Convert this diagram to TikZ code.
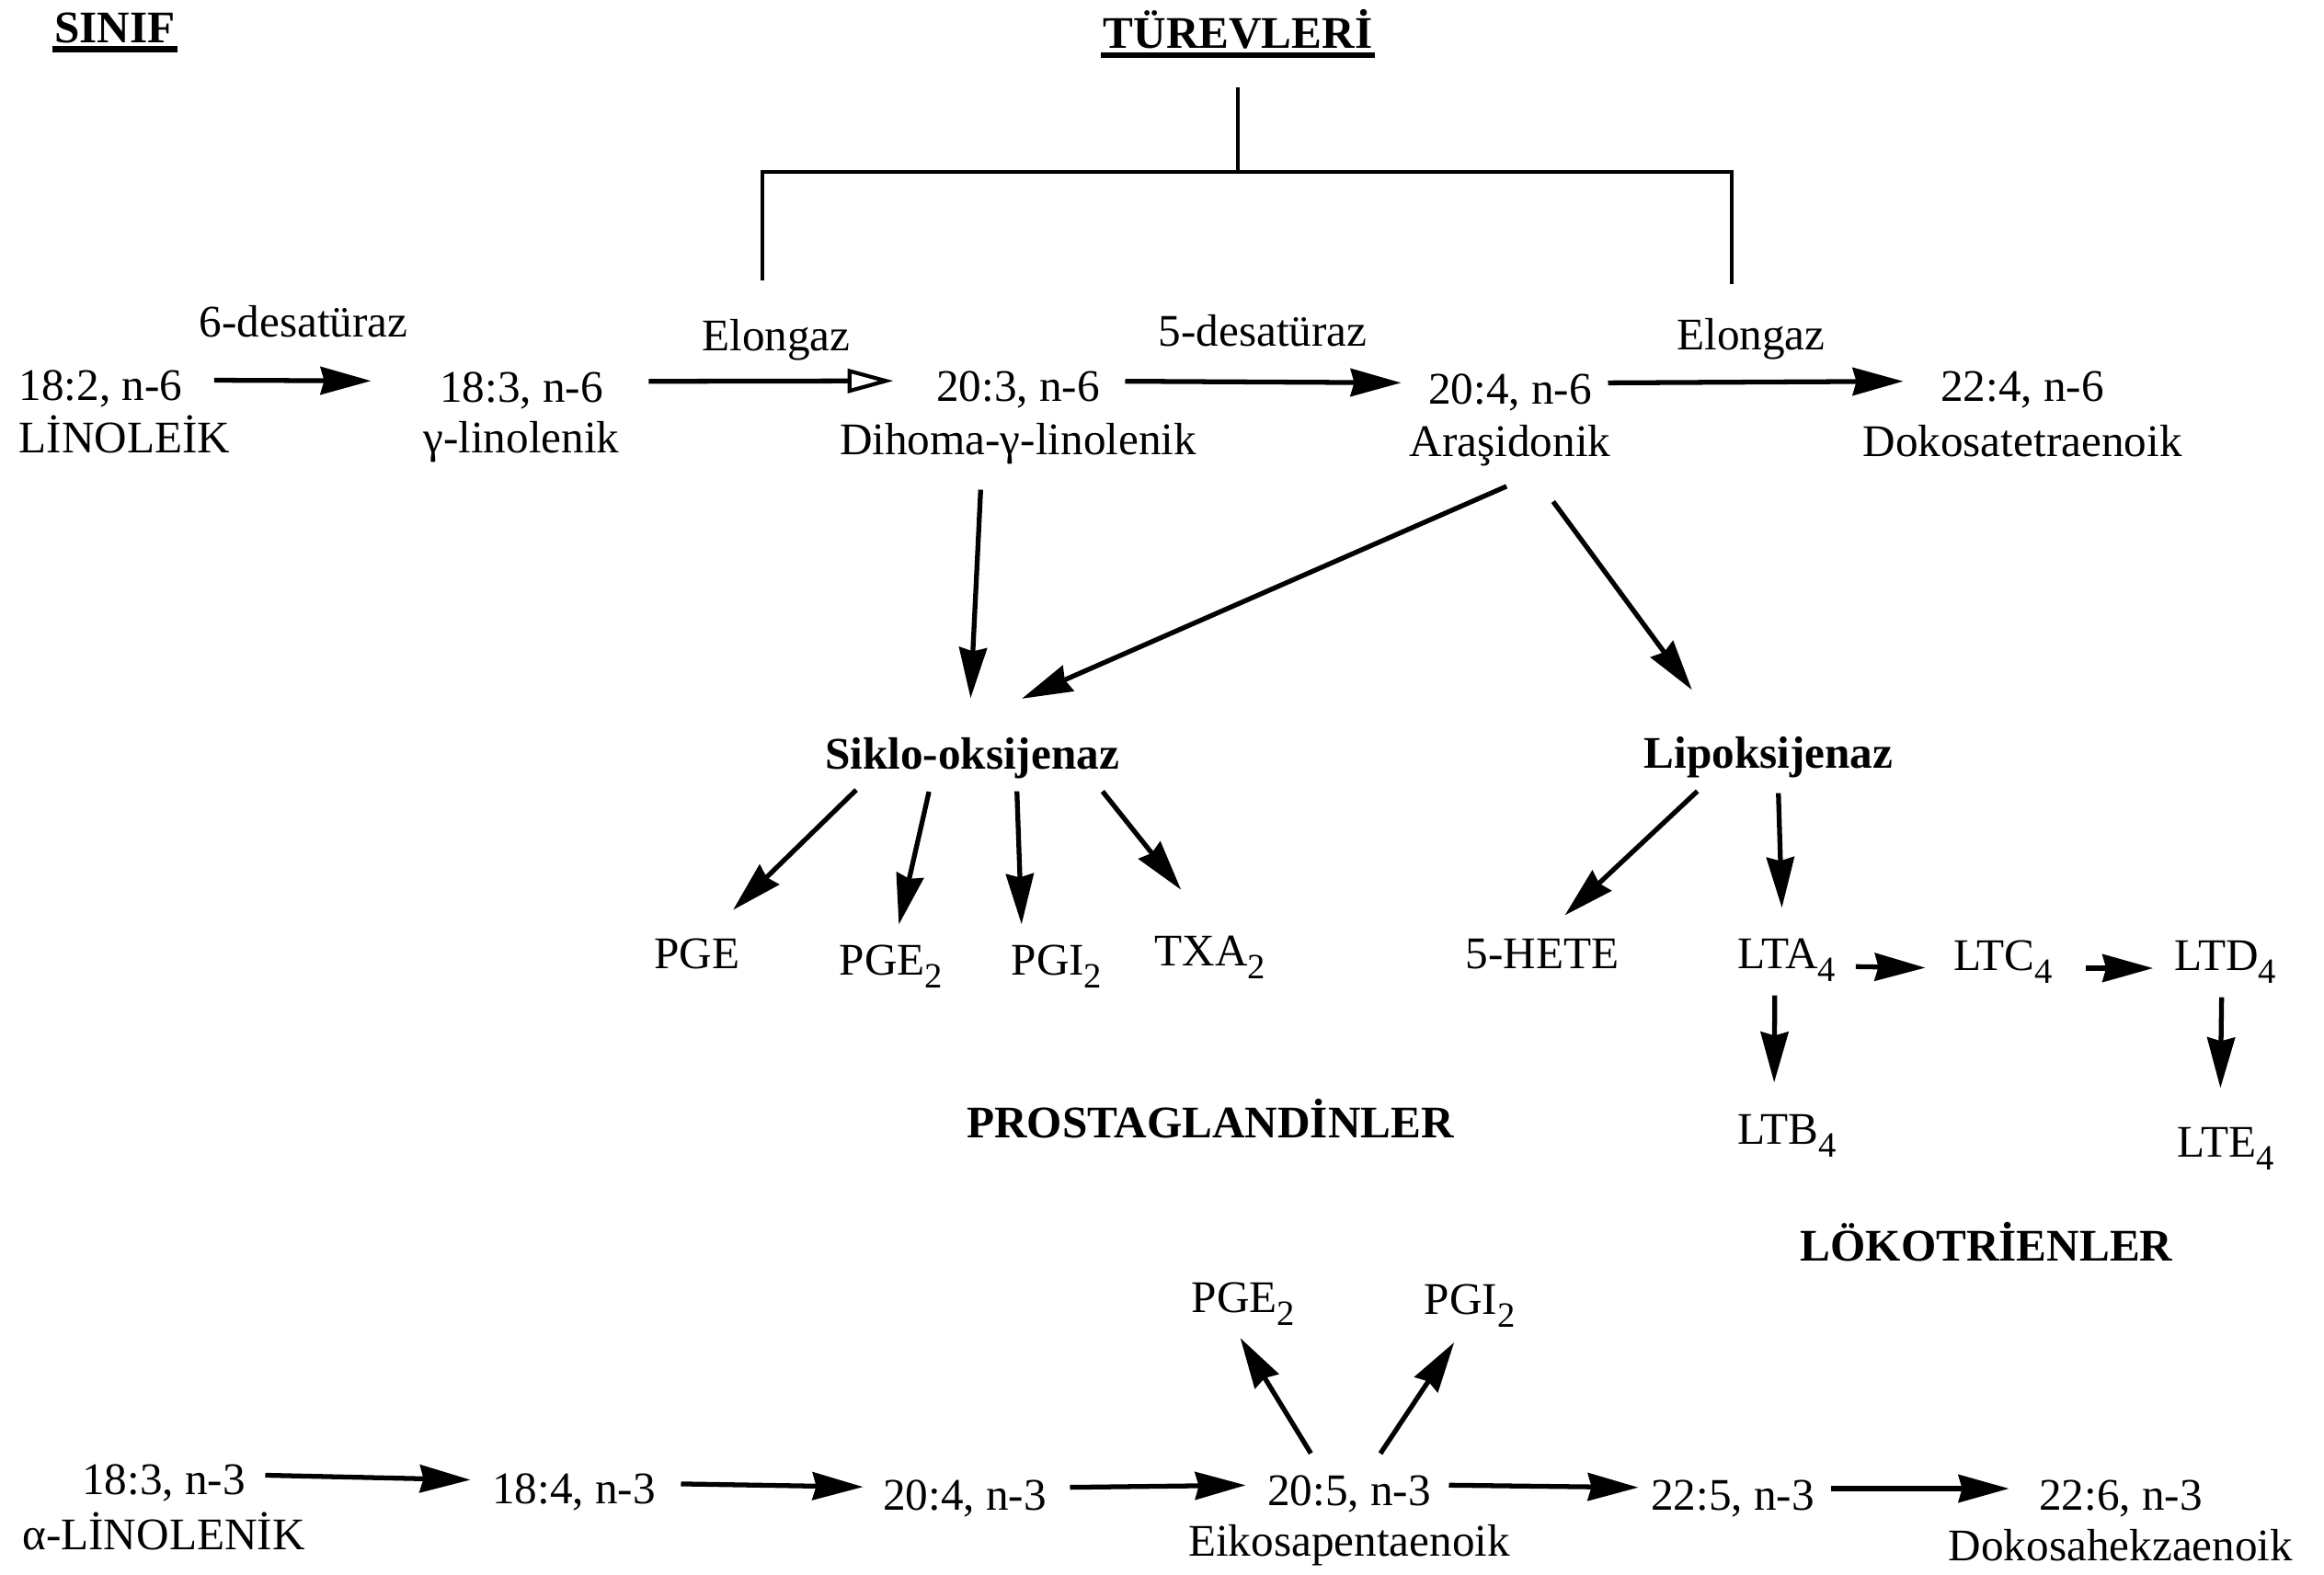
\documentclass[tikz,border=0pt]{standalone}
\usepackage{fontspec}
\setmainfont{Liberation Serif}
\usetikzlibrary{arrows.meta,positioning}

\newcommand{\chemsub}[1]{\raisebox{-4pt}{\fontsize{11}{12}\selectfont #1}}

\begin{document}
\begin{tikzpicture}[>={Stealth[length=5.5mm,width=3mm,inset=0.4mm]},line width=1.5pt,
    every node/.style={anchor=base,inner sep=0pt,text height=4.6mm,text depth=0pt,
      font=\fontsize{14}{17}\selectfont},
    enzyme node/.style={font=\fontsize{14}{17}\selectfont\bfseries},
    open arrow/.style={-{Triangle[open,length=5mm,width=2.6mm,line width=1.2pt]}}]

  \fill[white] (0,0) rectangle (25.27,-17.13);
  \useasboundingbox (0,0) rectangle (25.27,-17.13);

  % headers
  \node[enzyme node] (sinif) at (1.25,-0.47) {SINIF};
  \node[enzyme node] (turev) at (13.46,-0.53) {TÜREVLERİ};
  \draw[line width=1.8pt] ([yshift=-0.065cm]sinif.base west) -- ([yshift=-0.065cm]sinif.base east);
  \draw[line width=1.8pt] ([yshift=-0.07cm]turev.base west) -- ([yshift=-0.07cm]turev.base east);

  % n-6 row
  \node (n182) [anchor=base west] at (0.18,-4.36) {18:2, n-6};
  \node (linoleik) [below=0.57cm of n182.base west, anchor=base west] {LİNOLEİK};
  \node (n183) at (5.67,-4.38) {18:3, n-6};
  \node (gamma) [below=0.55cm of n183.base, anchor=base] {γ-linolenik};
  \node (n203) at (11.07,-4.37) {20:3, n-6};
  \node (dihoma) [below=0.58cm of n203.base, anchor=base] {Dihoma-γ-linolenik};
  \node (n204) at (16.42,-4.40) {20:4, n-6};
  \node (arasidonik) [below=0.57cm of n204.base, anchor=base] {Araşidonik};
  \node (n224) at (21.99,-4.37) {22:4, n-6};
  \node (dokosa4) [below=0.60cm of n224.base, anchor=base] {Dokosatetraenoik};

  \node (desA) at (3.30,-3.67) {6-desatüraz};
  \node (elonA) at (8.44,-3.82) {Elongaz};
  \node (desB) at (13.73,-3.77) {5-desatüraz};
  \node (elonB) at (19.04,-3.81) {Elongaz};

  % bracket
  \coordinate (brk) at (13.46,-1.87);
  \draw[line width=1.3pt,shorten <=0.39cm] (turev.south) -- (brk);
  \draw[line width=1.3pt,shorten >=0.28cm] (brk) -| ([xshift=-0.15cm]elonA.north);
  \draw[line width=1.3pt,shorten >=0.23cm] (brk) -| ([xshift=-0.21cm]elonB.north);

  \draw[->,shorten <=0.32cm,shorten >=0.72cm] (n182) -- (n183);
  \draw[open arrow,shorten <=0.47cm,shorten >=0.44cm] (n183) -- (n203);
  \draw[->,shorten <=0.25cm,shorten >=0.27cm] (n203) -- (n204);
  \draw[->,shorten <=0.15cm,shorten >=0.38cm] (n204) -- (n224);

  % enzymes and products
  \node[enzyme node] (siklo) at (10.57,-8.37) {Siklo-oksijenaz};
  \node[enzyme node] (lipo) at (19.23,-8.36) {Lipoksijenaz};
  \node (pge) at (7.58,-10.53) {PGE};
  \node (pge2) at (9.69,-10.60) {PGE\chemsub{2}};
  \node (pgi2) at (11.49,-10.60) {PGI\chemsub{2}};
  \node (txa2) at (13.16,-10.50) {TXA\chemsub{2}};
  \node (hete) at (16.77,-10.53) {5-HETE};
  \node (lta4) at (19.43,-10.53) {LTA\chemsub{4}};
  \node (ltc4) at (21.78,-10.55) {LTC\chemsub{4}};
  \node (ltd4) at (24.20,-10.55) {LTD\chemsub{4}};
  \node (ltb4) [below=1.91cm of lta4.base, anchor=base] {LTB\chemsub{4}};
  \node (lte4) [below=2.03cm of ltd4.base, anchor=base] {LTE\chemsub{4}};
  \node[enzyme node] (prosta) at (13.16,-12.37) {PROSTAGLANDİNLER};
  \node[enzyme node] (loko) at (21.60,-13.71) {LÖKOTRİENLER};

  \draw[->,shorten <=0.35cm,shorten >=0.29cm] ([xshift=-0.39cm]dihoma.south) -- ([xshift=-0.03cm]siklo.north);
  \draw[->,shorten <=0.73cm,shorten >=0.71cm] ([xshift=0.63cm]arasidonik.south) -- ([xshift=-0.11cm]siklo.north);
  \draw[->,shorten <=0.57cm,shorten >=0.46cm] ([xshift=0.13cm]arasidonik.south) -- ([xshift=-0.56cm]lipo.north);

  \draw[->,shorten <=0.28cm,shorten >=0.21cm] ([xshift=-1.06cm]siklo.south) -- ([xshift=0.24cm]pge.north);
  \draw[->,shorten <=0.22cm,shorten >=0.06cm] ([xshift=-0.42cm]siklo.south) -- ([xshift=0.07cm]pge2.north);
  \draw[->,shorten <=0.21cm,shorten >=0.06cm] ([xshift=0.48cm]siklo.south) -- ([xshift=-0.38cm]pgi2.north);
  \draw[->,shorten <=0.27cm,shorten >=0.43cm] ([xshift=1.25cm]siklo.south) -- ([xshift=-0.05cm]txa2.north);

  \draw[->,shorten <=0.32cm,shorten >=0.13cm] ([xshift=-0.54cm]lipo.south) -- ([xshift=0.15cm]hete.north);
  \draw[->,shorten <=0.24cm,shorten >=0.17cm] ([xshift=0.10cm]lipo.south) -- ([xshift=-0.05cm]lta4.north);
  \draw[->,shorten <=0.19cm,shorten >=0.28cm] ([yshift=-0.21cm]lta4.east) -- ([yshift=-0.21cm]ltc4.west);
  \draw[->,shorten <=0.33cm,shorten >=0.21cm] ([yshift=-0.21cm]ltc4.east) -- ([yshift=-0.21cm]ltd4.west);
  \draw[->,shorten <=0.27cm,shorten >=0.18cm] ([xshift=-0.13cm]lta4.south) -- ([xshift=-0.14cm]ltb4.north);
  \draw[->,shorten <=0.27cm,shorten >=0.26cm] ([xshift=-0.04cm]ltd4.south) -- ([xshift=-0.06cm]lte4.north);

  % n-3 row
  \node (bpge2) at (13.52,-14.27) {PGE\chemsub{2}};
  \node (bpgi2) at (15.98,-14.29) {PGI\chemsub{2}};
  \node (m183) at (1.78,-16.25) {18:3, n-3};
  \node (alinolenik) [below=0.60cm of m183.base, anchor=base] {α-LİNOLENİK};
  \node (m184) at (6.24,-16.35) {18:4, n-3};
  \node (m204) at (10.49,-16.42) {20:4, n-3};
  \node (m205) at (14.67,-16.37) {20:5, n-3};
  \node (eikosa) [below=0.55cm of m205.base, anchor=base] {Eikosapentaenoik};
  \node (m225) at (18.84,-16.42) {22:5, n-3};
  \node (m226) at (23.06,-16.42) {22:6, n-3};
  \node (dokosa6) [below=0.55cm of m226.base, anchor=base] {Dokosahekzaenoik};

  \draw[->,shorten <=0.19cm,shorten >=0.21cm] (m183) -- (m184);
  \draw[->,shorten <=0.25cm,shorten >=0.19cm] (m184) -- (m204);
  \draw[->,shorten <=0.23cm,shorten >=0.21cm] (m204) -- (m205);
  \draw[->,shorten <=0.17cm,shorten >=0.11cm] (m205) -- (m225);
  \draw[->,shorten <=0.15cm,shorten >=0.30cm] (m225) -- (m226);
  \draw[->,shorten <=0.09cm,shorten >=0.30cm] ([xshift=-0.37cm]m205.north) -- ([xshift=-0.19cm]bpge2.south);
  \draw[->,shorten <=0.09cm,shorten >=0.34cm] ([xshift=0.29cm]m205.north) -- ([xshift=0.02cm]bpgi2.south);
\end{tikzpicture}
\end{document}
